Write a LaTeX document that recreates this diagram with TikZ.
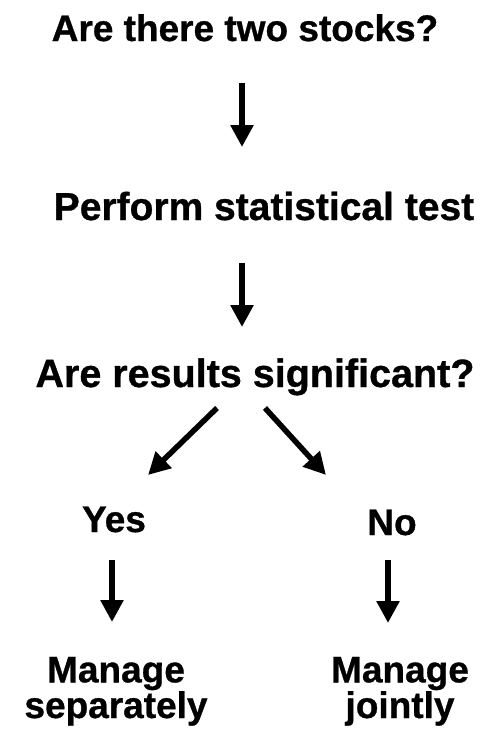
\documentclass[tikz,border=0pt]{standalone}
\usepackage{fontspec}
\setmainfont{Liberation Sans}[BoldFeatures={FakeBold=0.8}]
\usetikzlibrary{arrows.meta}
\tikzstyle{label}=[inner sep=0pt,outer sep=0pt,anchor=base,font=\bfseries\fontsize{37}{33}\selectfont,align=center]
\tikzstyle{flow}=[draw,line width=5.5pt,-{Triangle[width=22pt,length=22pt]}]

\begin{document}
\begin{tikzpicture}[x=1pt,y=1pt]
                 \useasboundingbox (0,0) rectangle (482,-734);
                 \node[label] (stocks) at (245,-41) {Are there two stocks?};
                 \node[label,font=\bfseries\fontsize{39}{35}\selectfont] (test) at (264,-220) {Perform statistical test};
                 \node[label,font=\bfseries\fontsize{39.5}{35}\selectfont] (signif) at (255,-387) {Are results significant?};
                 \node[label] (yes) at (114,-532) {Yes};
                 \node[label] (no) at (392,-535) {No};
                 \node[label] (apart) at (116,-718) {Manage\\separately};
                 \node[label] (joint) at (400,-718) {Manage\\jointly};
                 \path[flow] ([xshift=-3pt,yshift=-42pt]stocks.base) -- ([xshift=-22pt,yshift=73pt]test.base);
                 \path[flow] ([xshift=-22pt,yshift=-43pt]test.base) -- ([xshift=-13pt,yshift=60pt]signif.base);
                 \path[flow] ([xshift=-38pt,yshift=-21pt]signif.base) -- ([xshift=34pt,yshift=57pt]yes.base);
                 \path[flow] ([xshift=10pt,yshift=-21pt]signif.base) -- ([xshift=-66pt,yshift=60pt]no.base);
                 \path[flow] ([xshift=-2pt,yshift=-28pt]yes.base) -- ([xshift=-4pt,yshift=96pt]apart.base);
                 \path[flow] ([xshift=-4pt,yshift=-25pt]no.base) -- ([xshift=-12pt,yshift=95pt]joint.base);
            \end{tikzpicture}
\end{document}
